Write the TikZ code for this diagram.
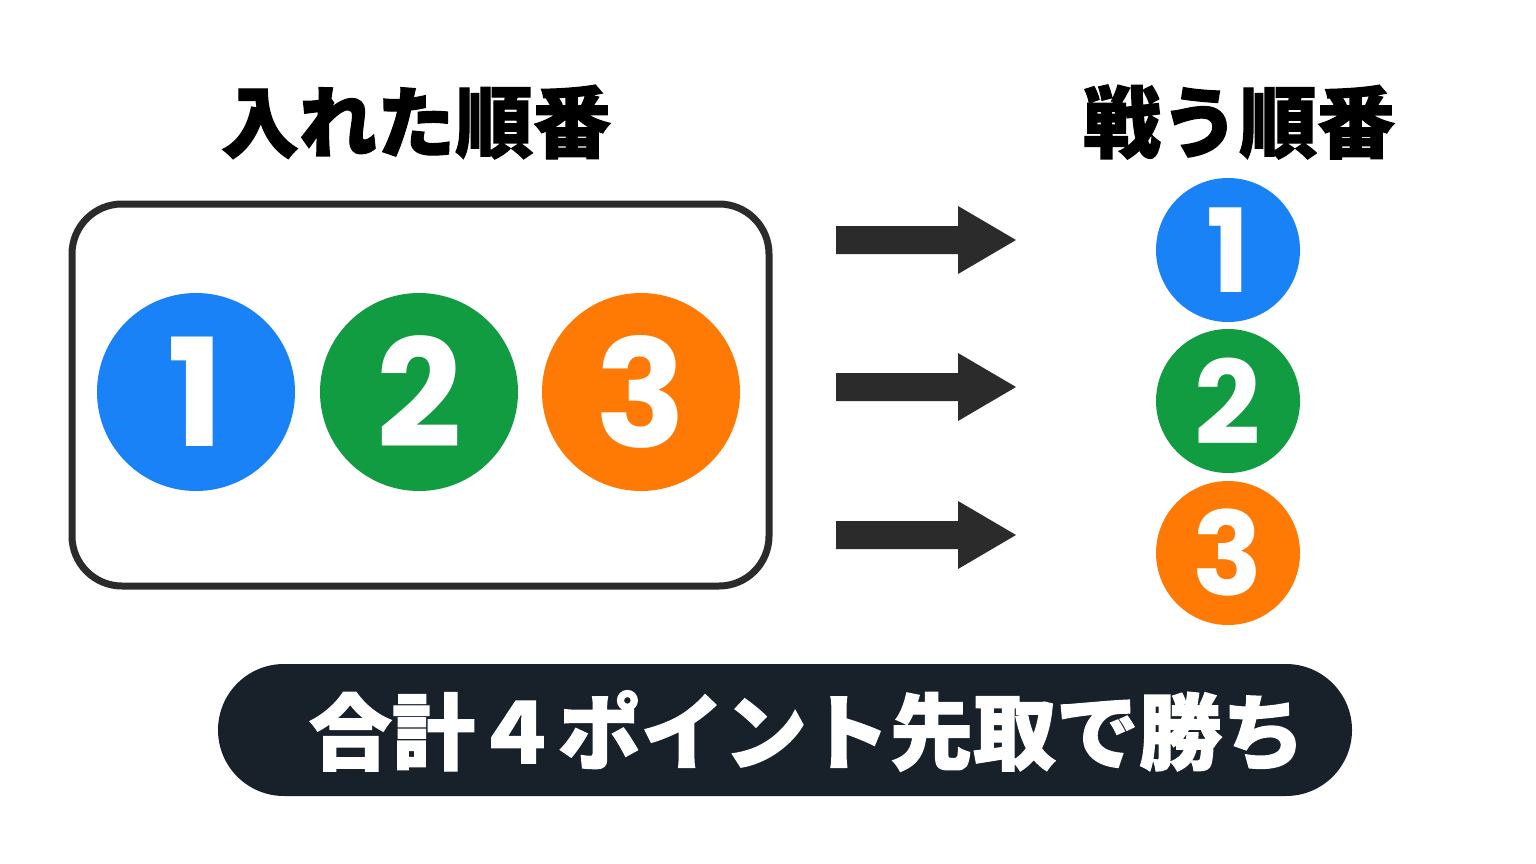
\documentclass[tikz,border=0pt]{standalone}
\usepackage{fontspec}
\newfontfamily\jp{Noto Sans CJK JP}[BoldFeatures={FakeBold=1.6}]
\newfontfamily\num{Poppins}
\definecolor{cblue}{HTML}{1A82F7}
\definecolor{cgreen}{HTML}{129C41}
\definecolor{corange}{HTML}{FF7A05}
\definecolor{cdark}{HTML}{2B2B2B}
\definecolor{cnavy}{HTML}{18202A}
\begin{document}
\begin{tikzpicture}[x=1pt,y=-1pt,
  title/.style={font=\jp\bfseries\fontsize{78}{84}\selectfont, text=black, inner sep=0pt},
  bigball/.style={circle, minimum size=198pt, inner sep=0pt, text=white, font=\num\bfseries\fontsize{150}{150}\selectfont},
  smallball/.style={circle, minimum size=144pt, inner sep=0pt, text=white, font=\num\bfseries\fontsize{116}{116}\selectfont},
  fatarrow/.style={fill=cdark},
  frame/.style={draw=cdark, line width=7pt, rounded corners=50pt},
  banner/.style={fill=cnavy, rounded corners=66pt}]
\useasboundingbox (0,0) rectangle (1536,864);
\fill[white] (0,0) rectangle (1536,864);
\node[title] (t1) at (416,122) {入れた順番};
\node[title] (t2) at (1239,122) {戦う順番};
\draw[frame] (72,204) rectangle (769,586);
\node[bigball, fill=cblue] (b1) at (196,392) {1};
\node[bigball, fill=cgreen] (b2) at (419,392) {2};
\node[bigball, fill=corange] (b3) at (641,392) {3};
\foreach \y/\n in {240/a1,387/a2,535/a3}{
  \fill[fatarrow] (836,\y-14) -- (958,\y-14) -- (958,\y-34) -- (1016,\y) -- (958,\y+34) -- (958,\y+14) -- (836,\y+14) -- cycle;
}
\node[smallball, fill=cblue] (s1) at (1228,250) {1};
\node[smallball, fill=cgreen] (s2) at (1228,401) {2};
\node[smallball, fill=corange] (s3) at (1228,553) {3};
\fill[banner] (218,664) rectangle (1352,796);
\node[font=\jp\bfseries\fontsize{83}{88}\selectfont, text=white, inner sep=0pt] (msg) at (807,731) {合計４ポイント先取で勝ち};
\end{tikzpicture}
\end{document}
